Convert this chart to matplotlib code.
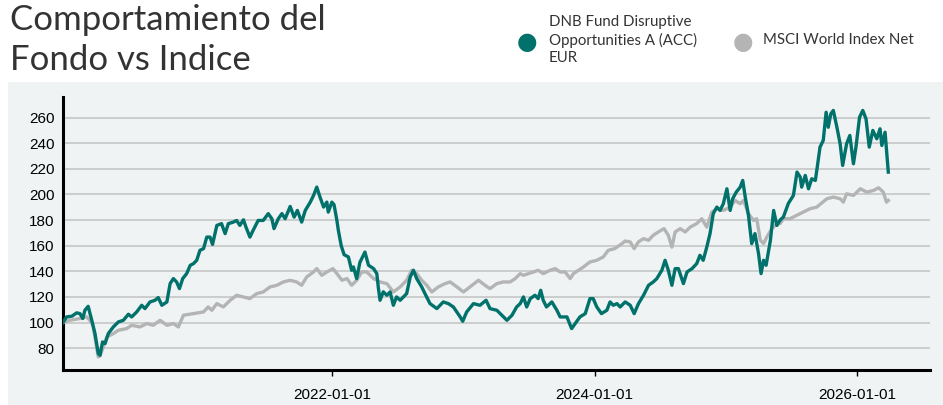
import matplotlib
matplotlib.use("Agg")
import matplotlib.pyplot as plt
from matplotlib.patches import Rectangle
import pandas as pd

# Fund series
fund_dates = [
    "2019-12-14", "2019-12-24", "2020-01-08", "2020-01-21", "2020-01-30", "2020-02-07",
    "2020-02-13", "2020-02-22", "2020-03-03", "2020-03-12", "2020-03-21", "2020-03-26",
    "2020-04-02", "2020-04-09", "2020-04-18", "2020-05-02", "2020-05-16", "2020-05-30",
    "2020-06-13", "2020-06-22", "2020-07-06", "2020-07-20", "2020-07-29", "2020-08-12",
    "2020-08-26", "2020-09-04", "2020-09-14", "2020-09-28", "2020-10-07", "2020-10-16",
    "2020-10-25", "2020-11-02", "2020-11-11", "2020-11-22", "2020-12-02", "2020-12-11",
    "2020-12-20", "2020-12-29", "2021-01-08", "2021-01-17", "2021-01-26", "2021-02-02",
    "2021-02-14", "2021-02-27", "2021-03-09", "2021-03-18", "2021-04-01", "2021-04-10",
    "2021-04-19", "2021-04-29", "2021-05-06", "2021-05-17", "2021-05-26", "2021-06-09",
    "2021-06-23", "2021-07-07", "2021-07-17", "2021-07-23", "2021-08-04", "2021-08-14",
    "2021-08-23", "2021-09-06", "2021-09-17", "2021-09-26", "2021-10-08", "2021-10-18",
    "2021-11-01", "2021-11-10", "2021-11-19", "2021-11-28", "2021-12-08", "2021-12-17",
    "2021-12-21", "2021-12-31", "2022-01-06", "2022-01-14", "2022-01-18", "2022-01-26",
    "2022-02-03", "2022-02-15", "2022-02-24", "2022-03-01", "2022-03-10", "2022-03-19",
    "2022-04-02", "2022-04-12", "2022-04-26", "2022-05-05", "2022-05-09", "2022-05-14",
    "2022-05-23", "2022-06-02", "2022-06-11", "2022-06-20", "2022-06-29", "2022-07-09",
    "2022-07-27", "2022-08-06", "2022-08-15", "2022-08-24", "2022-09-07", "2022-09-16",
    "2022-09-30", "2022-10-19", "2022-11-06", "2022-11-20", "2022-12-04", "2022-12-23",
    "2022-12-30", "2023-01-10", "2023-01-29", "2023-02-16", "2023-03-05", "2023-03-16",
    "2023-04-04", "2023-04-18", "2023-05-02", "2023-05-16", "2023-05-29", "2023-06-08",
    "2023-06-17", "2023-06-26", "2023-07-06", "2023-07-19", "2023-07-28", "2023-08-04",
    "2023-08-11", "2023-08-20", "2023-09-04", "2023-09-18", "2023-09-27", "2023-10-16",
    "2023-10-29", "2023-11-08", "2023-11-21", "2023-12-06", "2023-12-19", "2023-12-28",
    "2024-01-07", "2024-01-20", "2024-02-04", "2024-02-13", "2024-02-22", "2024-03-03",
    "2024-03-12", "2024-03-26", "2024-04-09", "2024-04-20", "2024-05-02", "2024-05-16",
    "2024-05-30", "2024-06-12", "2024-06-22", "2024-07-06", "2024-07-15", "2024-07-24",
    "2024-08-03", "2024-08-12", "2024-08-21", "2024-09-04", "2024-09-14", "2024-09-28",
    "2024-10-11", "2024-10-20", "2024-10-29", "2024-11-08", "2024-11-17", "2024-11-26",
    "2024-12-06", "2024-12-15", "2024-12-24", "2025-01-03", "2025-01-12", "2025-01-19",
    "2025-01-29", "2025-02-09", "2025-02-16", "2025-02-23", "2025-03-04", "2025-03-13",
    "2025-03-22", "2025-04-01", "2025-04-08", "2025-04-15", "2025-04-22", "2025-05-04",
    "2025-05-13", "2025-05-22", "2025-05-31", "2025-06-09", "2025-06-23", "2025-07-07",
    "2025-07-17", "2025-07-26", "2025-07-30", "2025-08-09", "2025-08-18", "2025-08-27",
    "2025-09-06", "2025-09-12", "2025-09-19", "2025-09-28", "2025-10-06", "2025-10-12",
    "2025-10-19", "2025-10-26", "2025-11-05", "2025-11-14", "2025-11-21", "2025-12-02",
    "2025-12-11", "2025-12-21", "2025-12-28", "2026-01-07", "2026-01-16", "2026-01-25",
    "2026-02-03", "2026-02-13", "2026-02-24", "2026-03-05", "2026-03-10", "2026-03-19",
    "2026-03-23", "2026-03-28",
]
fund_values = [
    100, 104.4, 105, 107.6, 107, 103.2,
    109.6, 112.7, 101.8, 91.4, 75.9, 74.5,
    84.9, 83.6, 91.4, 96.6, 100.5, 101.8,
    106.5, 104.4, 108.3, 113.5, 110.9, 116.1,
    117.4, 119.5, 113.5, 116.1, 130.4, 134.3,
    131.7, 126.5, 134.3, 138.2, 144.7, 146,
    148.6, 156.4, 157.7, 166.7, 166.7, 161,
    175.8, 177.2, 169.4, 177.2, 178.4, 179.7,
    175.8, 180.2, 174.5, 166.7, 172, 179.7,
    179.7, 185, 181, 173.3, 181, 185,
    181, 190.6, 182.3, 187.5, 178.4, 187.5,
    194, 199.2, 205.7, 197.9, 190.1, 194,
    186.2, 194, 192, 179.7, 172, 160,
    153, 151.2, 140.8, 143.4, 134.3, 147,
    155, 144.7, 142.1, 138.2, 127.8, 117.4,
    124, 121.3, 123.9, 113.5, 120, 117.4,
    122.6, 135.6, 140.8, 134.3, 127.8, 122.6,
    114.8, 110.9, 116.1, 114.8, 112.2, 104.4,
    101, 108.3, 114.8, 113.5, 117.4, 110.9,
    109.6, 105.7, 101.8, 105.7, 112.2, 114.8,
    120, 112.2, 118.7, 121.3, 118.7, 125.2,
    117.4, 112.2, 116.1, 109.6, 104.4, 104.4,
    95.3, 99.2, 104.4, 107, 118.7, 118.7,
    112.2, 107, 109.6, 116.1, 113.5, 114.8,
    112.2, 116.1, 113.5, 107, 114.8, 121.3,
    129.1, 131.7, 134.3, 140.8, 148.6, 140.8,
    129.1, 142.1, 142.1, 130.4, 139.5, 142.1,
    146, 152.5, 148.6, 158.9, 169.4, 185,
    190.1, 187.5, 192.7, 204.4, 187.5, 196.6,
    201.8, 205.7, 210.9, 197.9, 183.6, 161.6,
    169.4, 153.8, 138.2, 148.6, 144.7, 164.2,
    187.5, 175.8, 180, 182.3, 193, 199.2,
    217.4, 213.5, 205.7, 214.8, 204.4, 212.2,
    210.9, 222.6, 236.9, 242.1, 264.1, 252.4,
    262.8, 265.5, 252.4, 239.5, 222.6, 239.5,
    246, 223.9, 236.9, 260.2, 265.5, 259,
    236.9, 249.9, 243.4, 251.2, 238.2, 248.5,
    234.3, 217.4,
]

# Index series
index_dates = [
    "2019-12-14", "2020-01-02", "2020-01-31", "2020-02-18", "2020-03-03", "2020-03-07",
    "2020-03-21", "2020-03-26", "2020-04-14", "2020-05-02", "2020-05-16", "2020-06-08",
    "2020-06-22", "2020-07-15", "2020-08-03", "2020-08-21", "2020-09-09", "2020-09-28",
    "2020-10-16", "2020-10-30", "2020-11-13", "2020-12-11", "2021-01-08", "2021-01-21",
    "2021-01-31", "2021-02-14", "2021-03-04", "2021-03-23", "2021-04-10", "2021-04-29",
    "2021-05-17", "2021-06-05", "2021-06-23", "2021-07-12", "2021-07-31", "2021-08-18",
    "2021-09-06", "2021-09-24", "2021-10-08", "2021-10-22", "2021-11-10", "2021-11-19",
    "2021-12-03", "2021-12-17", "2022-01-03", "2022-01-14", "2022-01-28", "2022-02-11",
    "2022-02-24", "2022-03-10", "2022-03-24", "2022-04-07", "2022-04-26", "2022-05-14",
    "2022-06-02", "2022-06-20", "2022-07-09", "2022-07-27", "2022-08-10", "2022-08-24",
    "2022-09-07", "2022-09-21", "2022-10-05", "2022-10-23", "2022-11-11", "2022-11-25",
    "2022-12-14", "2023-01-01", "2023-01-19", "2023-02-12", "2023-03-02", "2023-03-16",
    "2023-04-04", "2023-04-22", "2023-05-11", "2023-05-25", "2023-06-08", "2023-06-17",
    "2023-07-01", "2023-07-15", "2023-07-28", "2023-08-11", "2023-08-30", "2023-09-13",
    "2023-09-27", "2023-10-11", "2023-10-25", "2023-11-03", "2023-11-17", "2023-12-01",
    "2023-12-19", "2024-01-07", "2024-01-25", "2024-02-08", "2024-02-26", "2024-03-17",
    "2024-03-26", "2024-04-09", "2024-04-20", "2024-05-02", "2024-05-16", "2024-05-30",
    "2024-06-12", "2024-06-26", "2024-07-12", "2024-07-24", "2024-08-03", "2024-08-12",
    "2024-08-26", "2024-09-09", "2024-09-23", "2024-10-11", "2024-10-25", "2024-11-08",
    "2024-11-22", "2024-12-06", "2024-12-24", "2025-01-12", "2025-01-26", "2025-02-09",
    "2025-02-18", "2025-03-04", "2025-03-18", "2025-03-27", "2025-04-06", "2025-04-15",
    "2025-04-24", "2025-05-08", "2025-05-22", "2025-05-31", "2025-06-09", "2025-06-27",
    "2025-07-26", "2025-08-22", "2025-09-10", "2025-10-08", "2025-10-26", "2025-11-14",
    "2025-11-23", "2025-12-02", "2025-12-21", "2026-01-09", "2026-01-27", "2026-02-15",
    "2026-03-01", "2026-03-14", "2026-03-23", "2026-03-28",
]
index_values = [
    100, 101.8, 103.2, 104.4, 100, 96.6,
    73.2, 74, 88.8, 91.4, 94, 95.3,
    97.9, 96.6, 99.2, 97.9, 101.8, 97.9,
    99.2, 96.6, 105.7, 107, 108.3, 112.2,
    109.6, 114.8, 112.2, 117.4, 121.3, 120,
    118.7, 122.6, 123.9, 127.8, 129.1, 131.7,
    133, 131.7, 129.1, 135.6, 139.5, 142.1,
    136.9, 139.5, 142.1, 138.2, 133, 134.3,
    129.1, 133, 139.5, 139.5, 134.3, 131.7,
    130.4, 123.9, 127.8, 133, 140.8, 138.2,
    133, 129.1, 123.9, 127.8, 130.4, 131.7,
    127.8, 123.9, 127.8, 133, 129.1, 126.5,
    130.4, 131.7, 131.7, 134.3, 138.2, 136.9,
    138.2, 139.5, 140.8, 138.2, 140.8, 142.1,
    139.5, 139.5, 134.3, 138.2, 140.8, 143.4,
    147.3, 148.6, 151.2, 156.4, 157.7, 161.6,
    163.6, 162.9, 157.7, 163, 165.5, 164.2,
    168.1, 170.7, 173.3, 168.1, 158.9, 170.7,
    173.3, 170.7, 174.5, 177.2, 181, 174.5,
    186.2, 188.8, 187.5, 190.1, 195.3, 192.7,
    195.3, 185, 179.7, 181, 164.2, 161.6,
    166.7, 173.3, 177.2, 177.2, 181, 181,
    185, 188.8, 190.1, 196.6, 197.9, 196.6,
    194, 200.5, 199.2, 204.4, 201.8, 203.1,
    205.2, 201.8, 194, 195.3,
]

fund_label = "DNB Fund Disruptive\nOpportunities A (ACC)\nEUR"
index_label = "MSCI World Index Net"
title = "Comportamiento del\nFondo vs Indice"
y_ticks = [80, 100, 120, 140, 160, 180, 200, 220, 240, 260]
x_ticks = ["2022-01-01", "2024-01-01", "2026-01-01"]

teal = "#00716b"
grey = "#b4b4b4"
panel = "#eff3f4"

fig = plt.figure(figsize=(9.43, 4.05), dpi=100)
fig.patch.set_facecolor("white")

# light panel behind the chart
fig.patches.append(Rectangle((8 / 943, 0), 1 - 8 / 943, 1 - 82 / 405,
                             transform=fig.transFigure, facecolor=panel,
                             edgecolor="none", zorder=-5))

ax = fig.add_axes([63 / 943, 35 / 405, (930 - 63) / 943, (370 - 97) / 405])
ax.set_zorder(2)
ax.patch.set_alpha(0)

ax.plot(pd.to_datetime(index_dates), index_values, color=grey, lw=2.4,
        solid_joinstyle="round", zorder=3)
ax.plot(pd.to_datetime(fund_dates), fund_values, color=teal, lw=2.4,
        solid_joinstyle="round", zorder=4)

ax.set_xlim(pd.Timestamp("2019-12-14"), pd.Timestamp("2026-07-22"))
ax.set_ylim(63, 276)

ax.set_yticks(y_ticks)
ax.set_yticklabels([str(v) for v in y_ticks], fontsize=11, family="Liberation Sans")
ax.set_xticks(pd.to_datetime(x_ticks))
ax.set_xticklabels(x_ticks, fontsize=11, family="Liberation Sans")
ax.tick_params(axis="y", length=0, pad=6)
ax.tick_params(axis="x", length=4, width=1, pad=9)

ax.grid(axis="y", color="#c9c9c9", lw=1.3)
ax.set_axisbelow(True)
for s in ["top", "right"]:
    ax.spines[s].set_visible(False)
for s in ["left", "bottom"]:
    ax.spines[s].set_linewidth(2.2)
    ax.spines[s].set_color("black")

# title
fig.text(10 / 943, 1 - 4 / 405, title, ha="left", va="top", fontsize=25,
         family="Lato", color="#333333", linespacing=1.3)

# legend
fig.text(527 / 943, 1 - 42 / 405, "\u25CF", color=teal, fontsize=17,
         ha="center", va="center", family="DejaVu Sans")
fig.text(549 / 943, 1 - 40 / 405, fund_label, ha="left", va="center",
         fontsize=10.8, family="Lato", color="#333333", linespacing=1.3)
fig.text(743 / 943, 1 - 42 / 405, "\u25CF", color=grey, fontsize=17,
         ha="center", va="center", family="DejaVu Sans")
fig.text(763 / 943, 1 - 40 / 405, index_label, ha="left", va="center",
         fontsize=10.8, family="Lato", color="#333333")

fig.savefig("out.png", dpi=100)
